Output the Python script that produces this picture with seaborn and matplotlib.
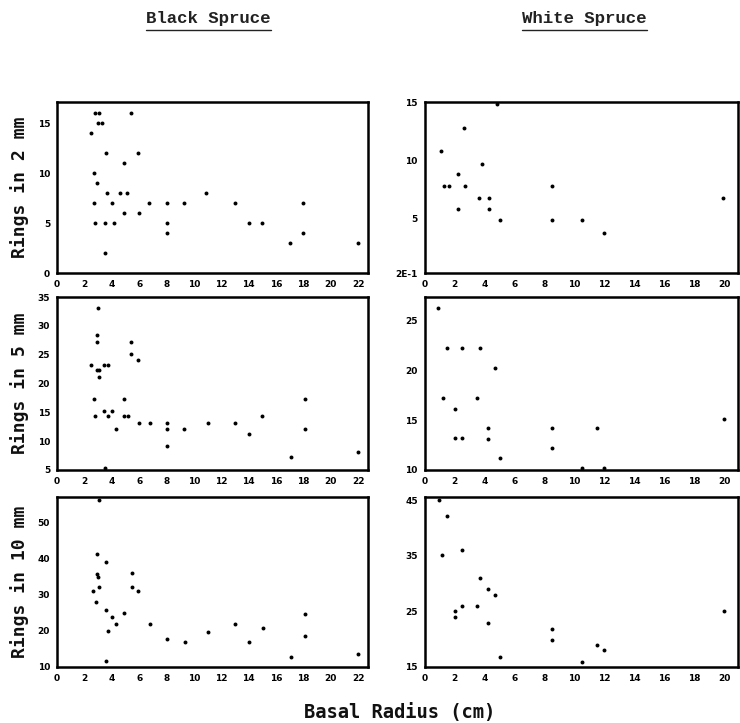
import numpy as np
import pandas as pd
import matplotlib
matplotlib.use("Agg")
import matplotlib.pyplot as plt
import seaborn as sns
from matplotlib.lines import Line2D

# Black spruce, rings in 2 mm
black_2_x = [2.5, 2.8, 3.1, 3.0, 3.3, 2.7, 2.9, 2.7, 2.8, 3.5, 3.6, 3.5, 3.65, 4.0, 4.2,
             4.6, 4.9, 4.9, 5.1, 5.4, 5.9, 6.0, 6.7, 8.0, 8.0, 8.0, 9.3, 10.9, 13.0,
             14.0, 15.0, 17.0, 18.0, 18.0, 22.0]
black_2_y = [14, 16, 16, 15, 15, 10, 9, 7, 5, 5, 12, 2, 8, 7, 5,
             8, 11, 6, 8, 16, 12, 6, 7, 7, 5, 4, 7, 8, 7,
             5, 5, 3, 7, 4, 3]

# White spruce, rings in 2 mm
white_2_x = [1.1, 1.3, 1.6, 2.2, 2.2, 2.6, 2.7, 3.6, 3.8, 4.3, 4.3, 4.8, 5.05,
             8.5, 8.5, 10.5, 12.0, 19.9]
white_2_y = [10.8, 7.8, 7.8, 8.8, 5.8, 12.8, 7.8, 6.75, 9.7, 6.75, 5.8, 14.9, 4.8,
             7.8, 4.8, 4.8, 3.7, 6.7]

# Black spruce, rings in 5 mm
black_5_x = [2.5, 2.7, 2.8, 2.9, 2.9, 3.0, 2.9, 3.1, 3.1, 3.4, 3.7, 3.4, 4.0, 3.7,
             3.5, 4.3, 4.9, 4.9, 5.2, 5.4, 5.4, 5.9, 6.0, 6.8, 8.0, 8.0, 8.0, 9.3,
             11.0, 13.0, 14.0, 15.0, 17.1, 18.1, 18.1, 22.0]
black_5_y = [23.2, 17.3, 14.3, 28.4, 27.2, 33.2, 22.3, 22.3, 21.2, 23.2, 23.2, 15.2, 15.2, 14.3,
             5.3, 12.1, 17.3, 14.3, 14.3, 27.2, 25.2, 24.1, 13.2, 13.2, 13.2, 12.1, 9.1, 12.1,
             13.2, 13.2, 11.2, 14.3, 7.2, 17.3, 12.1, 8.1]

# White spruce, rings in 5 mm
white_5_x = [0.9, 1.2, 1.5, 2.0, 2.0, 2.5, 2.5, 3.5, 3.7, 4.2, 4.2, 4.7, 5.0,
             8.5, 8.5, 10.5, 11.5, 12.0, 20.0]
white_5_y = [26.2, 17.2, 22.2, 16.1, 13.2, 22.2, 13.2, 17.2, 22.2, 14.2, 13.1, 20.2, 11.2,
             14.2, 12.2, 10.2, 14.2, 10.2, 15.1]

# Black spruce, rings in 10 mm
black_10_x = [3.05, 2.9, 2.6, 2.85, 2.9, 3.0, 3.1, 3.6, 3.55, 3.7, 4.0, 4.3, 3.55,
              4.9, 5.5, 5.5, 5.95, 6.8, 8.05, 9.35, 11.0, 13.0, 14.0, 15.05, 17.1,
              18.1, 18.1, 22.0]
black_10_y = [56.3, 41.3, 31.0, 28.1, 35.7, 35.0, 32.0, 39.1, 25.8, 19.9, 23.8, 22.0, 11.7,
              24.8, 36.1, 32.0, 30.9, 21.9, 17.6, 16.8, 19.7, 21.9, 16.8, 20.8, 12.7,
              24.7, 18.7, 13.7]

# White spruce, rings in 10 mm
white_10_x = [0.96, 1.48, 1.17, 2.5, 2.0, 2.0, 2.5, 3.7, 3.5, 4.2, 4.7, 4.2, 5.0,
              8.47, 8.47, 10.5, 11.5, 12.0, 20.0]
white_10_y = [45.0, 42.1, 35.2, 36.1, 25.0, 24.0, 25.9, 31.1, 25.9, 29.1, 28.0, 22.9, 16.8,
              21.9, 19.9, 15.9, 18.9, 18.0, 25.0]

black_xticks = list(range(0, 23, 2))
white_xticks = list(range(0, 21, 2))

panels = [
    # (x, y, xlim, xticks, ylim, yticks, yticklabels, ylabel)
    (black_2_x, black_2_y, (0, 22.7), black_xticks, (0, 17.1), [0, 5, 10, 15], None, "Rings in 2 mm"),
    (white_2_x, white_2_y, (0, 20.9), white_xticks, (0.2, 15.05), [0.2, 5, 10, 15], ["2E-1", "5", "10", "15"], None),
    (black_5_x, black_5_y, (0, 22.7), black_xticks, (5, 35), [5, 10, 15, 20, 25, 30, 35], None, "Rings in 5 mm"),
    (white_5_x, white_5_y, (0, 20.9), white_xticks, (10, 27.3), [10, 15, 20, 25], None, None),
    (black_10_x, black_10_y, (0, 22.7), black_xticks, (10, 57), [10, 20, 30, 40, 50], None, "Rings in 10 mm"),
    (white_10_x, white_10_y, (0, 20.9), white_xticks, (15, 45.6), [15, 25, 35, 45], None, None),
]

sns.set_theme(style="white")
plt.rcParams['font.family'] = ['DejaVu Sans']

fig = plt.figure(figsize=(7.4, 7.23), dpi=100)
fig.patch.set_facecolor("white")

lefts = [0.077, 0.574]
widths = [0.420, 0.423]
bottoms = [0.622, 0.350, 0.0775]
heights = [0.2365, 0.239, 0.235]

for i, (px, py, xlim, xt, ylim, yt, ytl, ylab) in enumerate(panels):
    row, col = divmod(i, 2)
    ax = fig.add_axes([lefts[col], bottoms[row], widths[col], heights[row]])
    df = pd.DataFrame({"radius": px, "rings": py})
    sns.scatterplot(data=df, x="radius", y="rings", ax=ax, color="black",
                    s=8, marker="o", edgecolor="black", linewidth=0, clip_on=False)
    ax.set_xlim(*xlim)
    ax.set_ylim(*ylim)
    ax.set_xticks(xt)
    ax.set_yticks(yt)
    if ytl is not None:
        ax.set_yticklabels(ytl)
    ax.set_xlabel("")
    ax.set_ylabel("")
    for sp in ax.spines.values():
        sp.set_visible(True)
        sp.set_color("black")
        sp.set_linewidth(1.8)
    ax.tick_params(axis="both", direction="inout", length=6, width=1.2,
                   color="black", labelsize=6.5, pad=2, labelcolor="black")
    for lab in ax.get_xticklabels() + ax.get_yticklabels():
        lab.set_fontweight("bold")
    ax.grid(False)
    if ylab:
        ax.text(-0.12, 0.5, ylab, transform=ax.transAxes, rotation=90,
                ha="center", va="center", fontsize=13, fontweight="bold",
                family="DejaVu Sans Mono", color="#111111")

# column titles, underlined
for xc, title in [(0.282, "Black Spruce"), (0.79, "White Spruce")]:
    t = fig.text(xc, 0.975, title, ha="center", va="center", fontsize=12.5,
                 fontweight="bold", family="Liberation Mono", color="#222222")
    half = len(title) * 0.6 * 12.5 / 72 * 100 / 740 / 2
    fig.add_artist(Line2D([xc - half, xc + half], [0.958, 0.958],
                          transform=fig.transFigure, color="#222222", linewidth=1.0))

fig.text(0.54, 0.015, "Basal Radius (cm)", ha="center", va="center", fontsize=13.5,
         fontweight="bold", family="DejaVu Sans Mono", color="#111111")

fig.savefig("out.png", dpi=100, facecolor="white")
